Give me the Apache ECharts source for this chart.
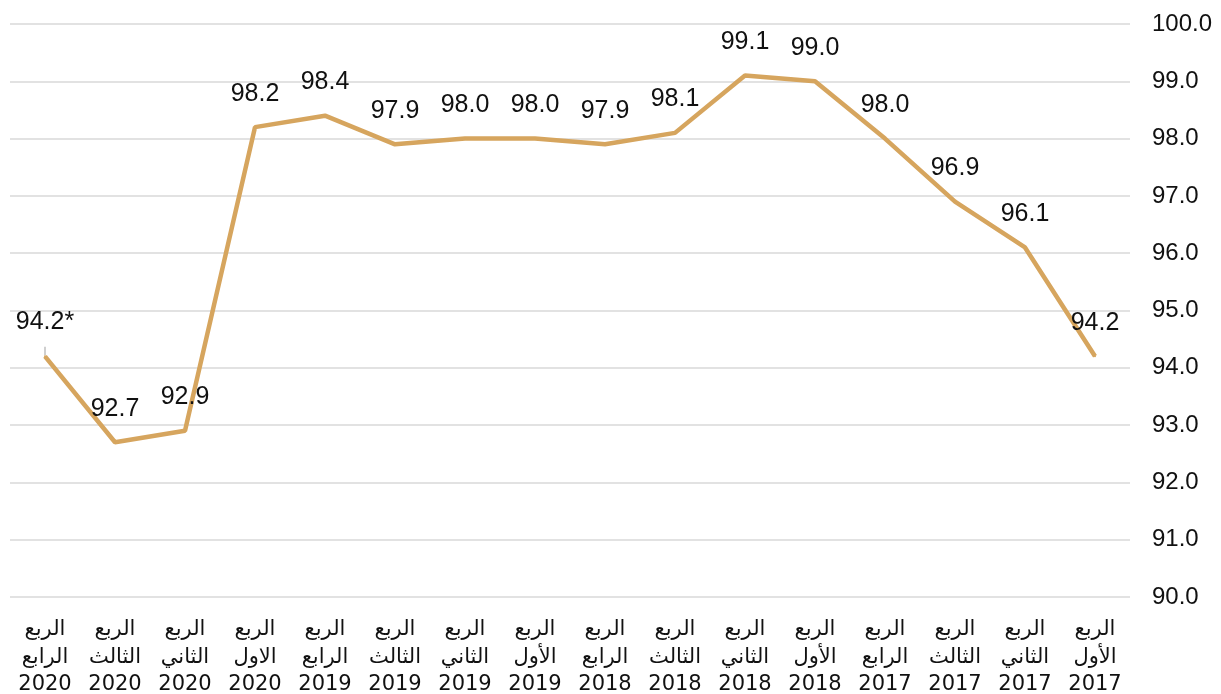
<!DOCTYPE html>
<html>
<head>
<meta charset="utf-8">
<script src="https://cdn.jsdelivr.net/npm/echarts@6/dist/echarts.min.js"></script>
<style>
html,body{margin:0;padding:0;background:#fff;}
#chart{width:1221px;height:694px;}
</style>
</head>
<body>
<div id="chart"></div>
<script>
const categories = [
  'الربع\nالرابع\n2020','الربع\nالثالث\n2020','الربع\nالثاني\n2020','الربع\nالاول\n2020',
  'الربع\nالرابع\n2019','الربع\nالثالث\n2019','الربع\nالثاني\n2019','الربع\nالأول\n2019',
  'الربع\nالرابع\n2018','الربع\nالثالث\n2018','الربع\nالثاني\n2018','الربع\nالأول\n2018',
  'الربع\nالرابع\n2017','الربع\nالثالث\n2017','الربع\nالثاني\n2017','الربع\nالأول\n2017'
];
const values = [94.2, 92.7, 92.9, 98.2, 98.4, 97.9, 98.0, 98.0, 97.9, 98.1, 99.1, 99.0, 98.0, 96.9, 96.1, 94.2];
const labelTexts = ['94.2*','92.7','92.9','98.2','98.4','97.9','98.0','98.0','97.9','98.1','99.1','99.0','98.0','96.9','96.1','94.2'];
const yTicks = {min: 90, max: 100, interval: 1};

const seriesData = values.map((v, i) => i === 0
  ? {value: v, label: {distance: 21}, labelLine: {show: true, lineStyle: {color: '#bfbfbf', width: 1.5}}}
  : {value: v});

const chart = echarts.init(document.getElementById('chart'));
chart.setOption({
  animation: false,
  grid: {left: 10, right: 91, top: 24, bottom: 97, outerBoundsMode: 'none', containLabel: false},
  xAxis: {
    type: 'category',
    data: categories,
    boundaryGap: true,
    axisLine: {show: false},
    axisTick: {show: false},
    axisLabel: {
      interval: 0,
      fontFamily: 'DejaVu Sans',
      fontSize: 21,
      lineHeight: 27.5,
      color: '#111',
      margin: 19
    }
  },
  yAxis: {
    type: 'value',
    position: 'right',
    min: yTicks.min, max: yTicks.max, interval: yTicks.interval,
    axisLine: {show: false},
    axisTick: {show: false},
    splitLine: {lineStyle: {color: '#d9d9d9', width: 1.5}},
    axisLabel: {
      formatter: v => v.toFixed(1),
      fontFamily: 'Liberation Sans',
      fontSize: 24,
      color: '#111',
      margin: 22,
      align: 'left'
    }
  },
  series: [{
    type: 'line',
    data: seriesData,
    showSymbol: true,
    symbol: 'circle',
    symbolSize: 2,
    itemStyle: {color: '#d6a55e'},
    lineStyle: {color: '#d6a55e', width: 4.5},
    label: {
      show: true,
      position: 'top',
      distance: 20,
      fontFamily: 'Liberation Sans',
      fontSize: 25,
      color: '#111',
      formatter: p => labelTexts[p.dataIndex]
    }
  }]
});
</script>
</body>
</html>
